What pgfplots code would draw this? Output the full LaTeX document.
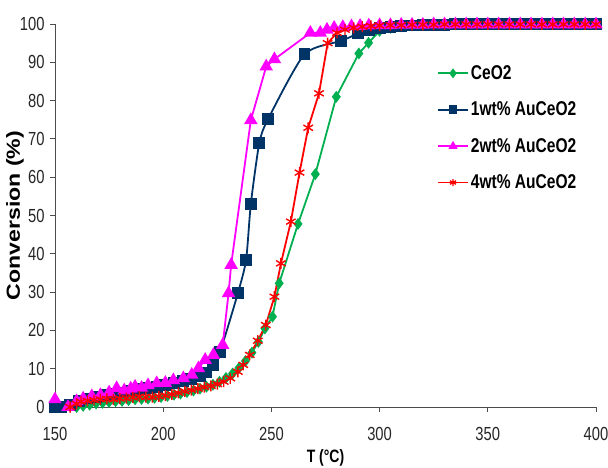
\documentclass[border=0pt]{standalone}
\usepackage{pgfplots}
\pgfplotsset{compat=1.18}
\usepackage{fontspec}
\setmainfont{Liberation Sans}[FakeStretch=0.78]
\newfontfamily\ylabelfont{Liberation Sans}[FakeStretch=1.22]
\definecolor{ceogreen}{RGB}{0,176,80}
\definecolor{aunavy}{RGB}{0,51,102}
\definecolor{aumagenta}{RGB}{255,0,255}
\definecolor{aured}{RGB}{255,0,0}

\pgfplotstableread{
T X
160 0
163 0.3
166 0.6
169 0.9
172 1.1
175 1.3
178 1.5
181 1.6
184 1.8
187 2.0
190 2.1
193 2.2
196 2.4
199 2.6
202 2.9
205 3.2
208 3.5
211 3.9
214 4.3
217 4.8
220 5.3
223 5.8
226 6.6
229 7.6
232 8.7
235 10.2
238 12.0
241 14.2
244 17.0
247 20.5
250.5 23.6
253.6 32.3
262.3 47.8
270.3 60.8
280 81.0
290.4 92.3
294.9 95.1
300 98.2
305 99.0
310 99.4
315 99.6
320 99.7
325 99.8
330 99.8
335 99.9
340 99.9
345 100
350 100
355 100
360 100
365 100
370 100
375 100
380 100
385 100
390 100
395 100
400 100
}\ceo

\pgfplotstableread{
T X
150 0
153 0
157 0.5
161 1.5
165 2.2
169 2.7
173 3.1
177 3.4
181 3.8
185 4.2
189 4.6
193 5.0
197 5.3
201 5.7
205 6.2
209 6.8
213 7.4
217 8.0
220 9.0
223 11.0
226.3 14.4
234.5 29.7
238.3 38.4
240.5 53.0
244.4 68.9
248.4 75.1
265.3 92.1
282.3 95.6
290 97.5
295 98.5
300 99.0
305 99.3
310 99.5
315 99.6
320 99.7
325 99.8
330 99.8
335 99.9
340 99.9
345 100
350 100
355 100
360 100
365 100
370 100
375 100
380 100
385 100
390 100
395 100
400 100
}\auone

\pgfplotstableread{
T X
150 2.0
156 0
160 1.5
163 2.2
167 2.8
171 3.1
175 3.8
178.5 4.9
182 4.3
185 4.8
187 5.3
190 5.0
193 5.7
197 6.2
201 6.3
204.7 7.0
209.3 7.5
213.2 8.4
216.3 10.1
219.4 12.3
223.2 13.6
227.5 16.2
230.2 29.7
231.4 37.1
240.5 74.9
247.6 88.9
251.4 90.8
268 97.7
272.6 97.7
275.7 98.5
279 99.0
283 99.2
287 99.4
291 99.5
295 99.6
300 99.7
305 99.7
310 99.8
315 99.8
320 99.8
325 99.9
330 99.9
335 99.9
340 99.9
345 99.9
350 99.9
355 99.9
360 99.9
365 99.9
370 99.9
375 99.9
380 99.9
385 99.9
390 99.9
395 99.9
400 99.9
}\autwo

\pgfplotstableread{
T X
157 0
160 0.8
162 1.4
165 1.6
168 1.8
171 2.0
174 2.1
177 2.0
180 2.2
183 2.3
186 2.5
189 2.7
192 2.6
195 2.6
198 2.8
201 3.0
204 3.3
207 3.7
210 4.1
213 4.4
216 4.8
219 5.2
222 5.5
225 6.0
228 6.6
231 7.5
234.5 9.2
237 11.0
240 13.6
243.7 17.3
247.4 21.4
251.4 28.8
254.4 37.5
259 48.4
263 61.2
267 72.9
272 81.9
276 95.0
280.3 97.7
284 98.5
288 99.0
292 99.3
296 99.5
300 99.6
305 99.7
310 99.7
315 99.8
320 99.8
325 99.8
330 99.9
335 99.9
340 99.9
345 99.9
350 99.9
355 99.9
360 99.9
365 99.9
370 99.9
375 99.9
380 99.9
385 99.9
390 99.9
395 99.9
400 99.9
}\aufour

\begin{document}
\begin{tikzpicture}
\begin{axis}[
  at={(0,0)}, anchor=south west,
  width=541bp, height=383bp, scale only axis,
  xmin=150, xmax=400, ymin=0, ymax=100,
  xtick={150,200,...,400}, ytick={0,10,...,100},
  axis lines=left,
  axis line style={-, black!70, line width=0.8bp},
  tick align=outside, major tick length=5bp,
  tick style={black!70, line width=0.8bp},
  ticklabel style={font=\fontsize{19}{20}\selectfont, text=black!85},
  xticklabel style={yshift=-12bp},
  yticklabel style={xshift=-2bp},
  /pgf/number format/assume math mode=true,
  clip=false,
  xlabel={T (°C)},
  ylabel={Conversion (\%)},
  xlabel style={at={(axis description cs:0.5,-0.133)}, anchor=center,
                font=\fontsize{18}{20}\selectfont\bfseries},
  ylabel style={at={(axis description cs:-0.074,0.50)}, anchor=center,
                font=\fontsize{19}{20}\selectfont\ylabelfont\bfseries},
  legend style={at={(axis description cs:0.706,0.897)}, anchor=north west,
                draw=none, fill=none, inner sep=0pt, row sep=17bp,
                font=\fontsize{20}{22}\selectfont\bfseries},
  legend cell align=left,
  legend image code/.code={\draw[mark repeat=2,mark phase=2,#1]
      plot coordinates {(0bp,0bp) (15bp,0bp) (30bp,0bp)};},
  legend image post style={mark size=3.5bp},
  every axis plot/.append style={line width=1.8bp},
]
\addplot[color=ceogreen, mark=diamond*, mark size=4.5bp,
         mark options={solid, fill=ceogreen}] table {\ceo};
\addlegendentry{CeO2}
\addplot[color=aunavy, smooth, tension=0.4, mark=square*, mark size=5bp,
         mark options={solid, fill=aunavy}] table {\auone};
\addlegendentry{1wt\% AuCeO2}
\addplot[color=aumagenta, mark=triangle*, mark size=6bp,
         mark options={solid, fill=aumagenta}] table {\autwo};
\addlegendentry{2wt\% AuCeO2}
\addplot[color=aured, mark=asterisk, mark size=5.5bp,
         mark options={solid, line width=1.4bp}] table {\aufour};
\addlegendentry{4wt\% AuCeO2}
\end{axis}
% page frame around the plot area
\pgfresetboundingbox
\path[use as bounding box] (-55bp,-61bp) rectangle (553bp,407bp);
\end{tikzpicture}
\end{document}
